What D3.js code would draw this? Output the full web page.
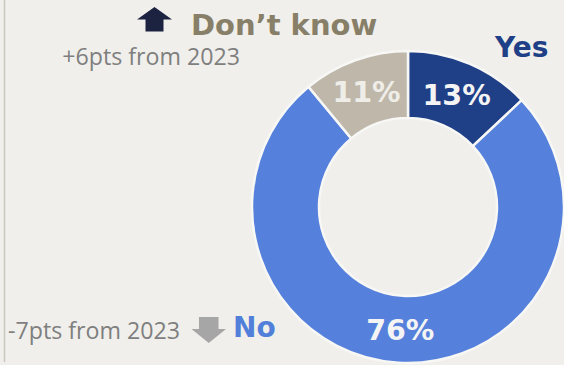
<!DOCTYPE html>
<html>
<head>
<meta charset="utf-8">
<script src="https://cdn.jsdelivr.net/npm/d3@7"></script>
<style>
  html, body { margin: 0; padding: 0; background: #f0efeb; }
  svg { display: block; }
</style>
</head>
<body>
<svg id="chart" width="564" height="365"></svg>
<script>
// Survey answers and their shares (%)
const categories = ["Yes", "No", "Don\u2019t know"];
const shares = [13, 76, 11];
const sliceColors = ["#1f3f87", "#5580db", "#bfb8aa"];
const labelColors = ["#1f3f87", "#517fd9", "#877f67"];
// Year-on-year change notes
const changeNotes = ["+6pts from 2023", "-7pts from 2023"];

const W = 564, H = 365;
const cx = 408, cy = 207, outerR = 156, innerR = 89;
const boldFont = "'DejaVu Sans', Verdana, sans-serif";
const noteFont = "'Open Sans', sans-serif";

const svg = d3.select("#chart");

svg.append("rect").attr("width", W).attr("height", H).attr("fill", "#f0efeb");
// thin left rule
svg.append("line")
  .attr("x1", 4.5).attr("x2", 4.5).attr("y1", 0).attr("y2", 362)
  .attr("stroke", "#cbc7bc").attr("stroke-width", 1.5);

const data = categories.map((c, i) => ({ cat: c, value: shares[i], color: sliceColors[i] }));

const pie = d3.pie().value(d => d.value).sort(null).startAngle(0).endAngle(2 * Math.PI);
const arc = d3.arc().innerRadius(innerR).outerRadius(outerR);
const labelArc = d3.arc().innerRadius((innerR + outerR) / 2).outerRadius((innerR + outerR) / 2);

const g = svg.append("g").attr("transform", `translate(${cx},${cy})`);
const arcs = pie(data);

g.selectAll("path.slice").data(arcs).enter().append("path")
  .attr("class", "slice")
  .attr("d", arc)
  .attr("fill", d => d.data.color)
  .attr("stroke", "#f7f7f5")
  .attr("stroke-width", 2.5)
  .attr("stroke-linejoin", "miter");

g.selectAll("text.pct").data(arcs).enter().append("text")
  .attr("class", "pct")
  .attr("transform", d => `translate(${labelArc.centroid(d)})`)
  .attr("text-anchor", "middle")
  .attr("dy", "0.36em")
  .attr("font-family", boldFont)
  .attr("font-weight", "bold")
  .attr("font-size", 28.5)
  .attr("fill", (d, i) => i === 2 ? "#efede8" : "#f4f4f4")
  .text(d => d.data.value + "%");

// Category names
svg.append("text")
  .attr("x", 495).attr("y", 56.5)
  .attr("font-family", boldFont).attr("font-weight", "bold").attr("font-size", 28)
  .attr("fill", labelColors[0]).text(categories[0]);

svg.append("text")
  .attr("x", 233).attr("y", 336.5)
  .attr("font-family", boldFont).attr("font-weight", "bold").attr("font-size", 28)
  .attr("fill", labelColors[1]).text(categories[1]);

svg.append("text")
  .attr("x", 191).attr("y", 34.5)
  .attr("font-family", boldFont).attr("font-weight", "bold").attr("font-size", 29)
  .attr("fill", labelColors[2]).text(categories[2]);

// Change notes
svg.append("text")
  .attr("x", 240).attr("y", 65).attr("text-anchor", "end")
  .attr("font-family", noteFont).attr("font-size", 23.2)
  .attr("fill", "#7f7f7f").text(changeNotes[0]);

svg.append("text")
  .attr("x", 180).attr("y", 339).attr("text-anchor", "end")
  .attr("font-family", noteFont).attr("font-size", 23.2)
  .attr("fill", "#7f7f7f").text(changeNotes[1]);

// Up arrow (increase)
svg.append("path")
  .attr("d", "M137,19.5 L154.5,7 L172,19.5 L163.5,19.5 L163.5,31.5 L145.5,31.5 L145.5,19.5 Z")
  .attr("fill", "#1c2340");

// Down arrow (decrease)
svg.append("path")
  .attr("d", "M199,317 L218.5,317 L218.5,329 L226,329 L208.75,343 L191.5,329 L199,329 Z")
  .attr("fill", "#a6a6a6");
</script>
</body>
</html>
